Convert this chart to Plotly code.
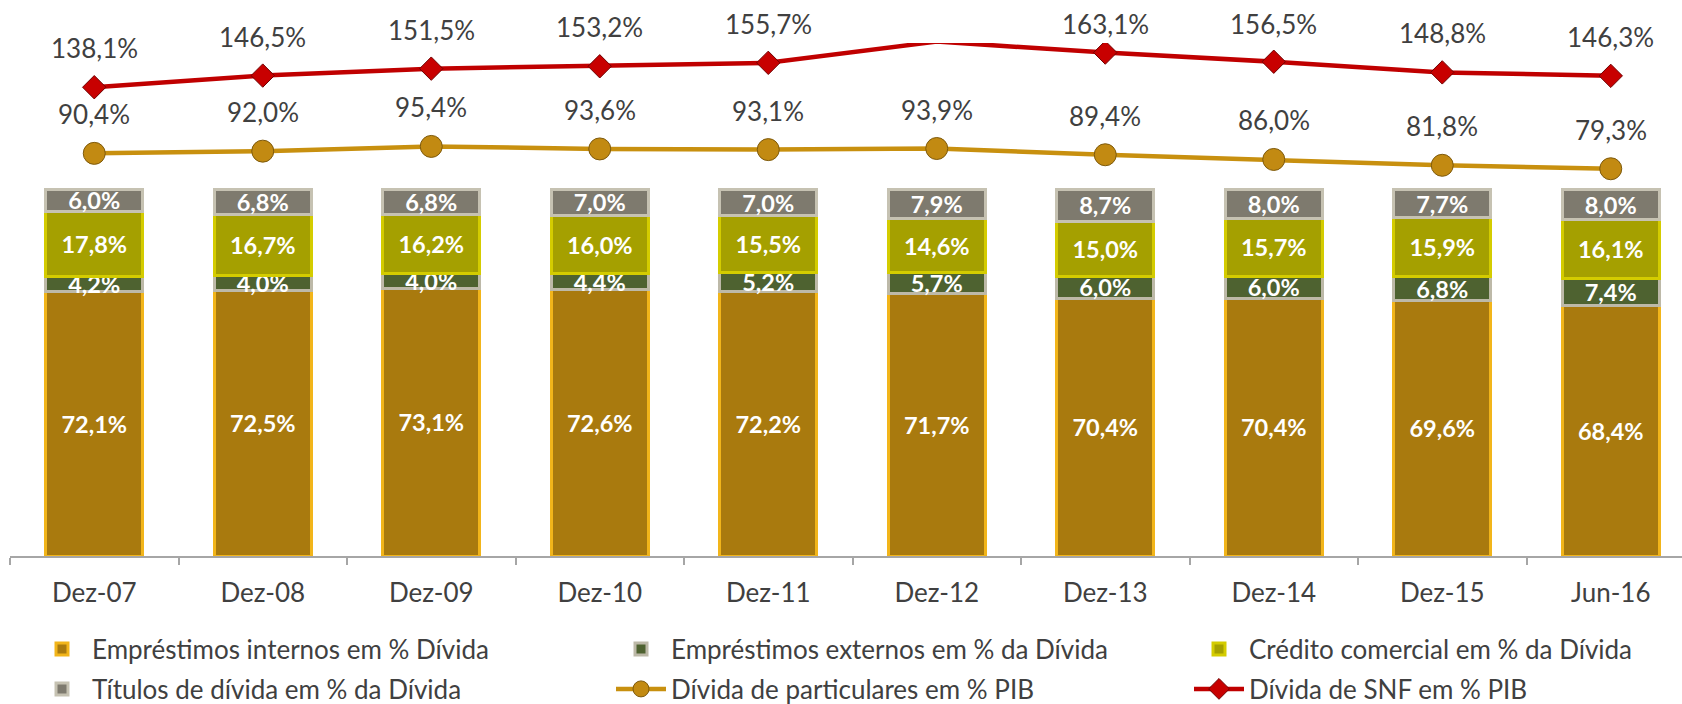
import plotly.graph_objects as go

categories = ["Dez-07", "Dez-08", "Dez-09", "Dez-10", "Dez-11",
              "Dez-12", "Dez-13", "Dez-14", "Dez-15", "Jun-16"]

emprestimos_internos = [72.1, 72.5, 73.1, 72.6, 72.2, 71.7, 70.4, 70.4, 69.6, 68.4]
emprestimos_externos = [4.2, 4.0, 4.0, 4.4, 5.2, 5.7, 6.0, 6.0, 6.8, 7.4]
credito_comercial = [17.8, 16.7, 16.2, 16.0, 15.5, 14.6, 15.0, 15.7, 15.9, 16.1]
titulos_divida = [6.0, 6.8, 6.8, 7.0, 7.0, 7.9, 8.7, 8.0, 7.7, 8.0]

divida_particulares = [90.4, 92.0, 95.4, 93.6, 93.1, 93.9, 89.4, 86.0, 81.8, 79.3]
divida_snf = [138.1, 146.5, 151.5, 153.2, 155.7, 171.0, 163.1, 156.5, 148.8, 146.3]

names = [
    "Empréstimos internos em % Dívida",
    "Empréstimos externos em % da Dívida",
    "Crédito comercial em % da Dívida",
    "Títulos de dívida em % da Dívida",
    "Dívida de particulares em % PIB",
    "Dívida de SNF em % PIB",
]

Y2_RANGE = [-200, 170]
FONT = "Lato"
TXT = "#404040"
FS = 26

W, H = 1682, 704
ML, MR, MT, MB = 10, 0, 43, 148
CAT_W = 168.5
plot_w = W - ML - MR
plot_h = H - MT - MB
x_max = -0.5 + plot_w / CAT_W

fig = go.Figure()

bar_specs = [
    (emprestimos_internos, "#A97A0E", "#F2B51A"),
    (emprestimos_externos, "#4E6230", "#BDB9A8"),
    (credito_comercial, "#A5A000", "#D4CC00"),
    (titulos_divida, "#7E7A6E", "#C6C2B2"),
]
for i, (vals, fill, edge) in enumerate(bar_specs):
    fig.add_trace(go.Bar(
        x=categories, y=vals, name=names[i],
        marker=dict(color=fill, line=dict(color=edge, width=3)),
        texttemplate="%{y:.1f}%", textposition="inside",
        insidetextanchor="middle", textangle=0,
        textfont=dict(family=FONT, size=23.5, color="white", weight="bold"),
        legend="legend" if i == 0 else f"legend{i + 1}",
        yaxis="y",
    ))

def sizes(series, s):
    # points beyond the secondary-axis maximum are not marked (as in the original)
    return [0 if v > Y2_RANGE[1] else s for v in series]

fig.add_trace(go.Scatter(
    x=categories, y=divida_particulares, name=names[4],
    mode="lines+markers", yaxis="y2",
    line=dict(color="#C8900F", width=4.5),
    marker=dict(symbol="circle", size=sizes(divida_particulares, 22), opacity=1,
                color="#C28A12", line=dict(color="#7E5A0C", width=1)),
    legend="legend5",
))
fig.add_trace(go.Scatter(
    x=categories, y=divida_snf, name=names[5],
    mode="lines+markers", yaxis="y2",
    line=dict(color="#C00000", width=4.5),
    marker=dict(symbol="diamond", size=sizes(divida_snf, 18), opacity=1,
                color="#C80000", line=dict(color="#700000", width=1)),
    legend="legend6",
))

def fmt(v):
    return f"{v:.1f}".replace(".", ",") + "%"

y2_px_per_unit = plot_h / (Y2_RANGE[1] - Y2_RANGE[0])
LABEL_GAP = 39
LABEL_MIN_CENTER = 24  # labels are kept inside the chart area

annotations = []
for series in (divida_particulares, divida_snf):
    for c, v in zip(categories, series):
        if v > Y2_RANGE[1]:
            continue
        py = MT + (Y2_RANGE[1] - v) * y2_px_per_unit
        shift = py - max(py - LABEL_GAP, LABEL_MIN_CENTER)
        annotations.append(dict(
            x=c, y=v, xref="x", yref="y2", text=fmt(v), showarrow=False,
            yshift=shift, font=dict(family=FONT, size=FS, color=TXT),
            xanchor="center", yanchor="middle",
        ))

def px_to_paper_x(px):
    return (px - ML) / plot_w
def px_to_paper_y(py):
    return (H - MB - py) / plot_h

leg_cols = [32, 611, 1189]
leg_rows = [649, 689]
legend_layouts = {}
for k in range(6):
    row, col = divmod(k, 3)
    key = "legend" if k == 0 else f"legend{k + 1}"
    legend_layouts[key] = dict(
        x=px_to_paper_x(leg_cols[col]), y=px_to_paper_y(leg_rows[row]),
        xanchor="left", yanchor="middle", orientation="h",
        font=dict(family=FONT, size=FS, color=TXT),
        bgcolor="rgba(0,0,0,0)", borderwidth=0, itemwidth=50,
    )

fig.update_layout(
    width=W, height=H,
    margin=dict(l=ML, r=MR, t=MT, b=MB, pad=0, autoexpand=False),
    paper_bgcolor="white", plot_bgcolor="white",
    barmode="stack", bargap=0.427,
    separators=",.",
    uniformtext=dict(minsize=23.5, mode="show"),
    showlegend=True,
    font=dict(family=FONT, size=FS, color=TXT),
    xaxis=dict(
        type="category", range=[-0.5, x_max],
        showline=True, linecolor="#A6A6A6", linewidth=2,
        ticks="outside", tickson="boundaries", ticklen=7,
        tickcolor="#A6A6A6", tickwidth=2, ticklabelstandoff=13,
        tickfont=dict(family=FONT, size=FS, color=TXT),
        showgrid=False, zeroline=False,
    ),
    yaxis=dict(range=[0, 140], visible=False, showgrid=False, zeroline=False),
    yaxis2=dict(range=Y2_RANGE, overlaying="y", visible=False,
                showgrid=False, zeroline=False),
    annotations=annotations,
    **legend_layouts,
)

fig.write_html("out.html", config={"displayModeBar": False},
               post_script="document.body.style.margin='0';")
